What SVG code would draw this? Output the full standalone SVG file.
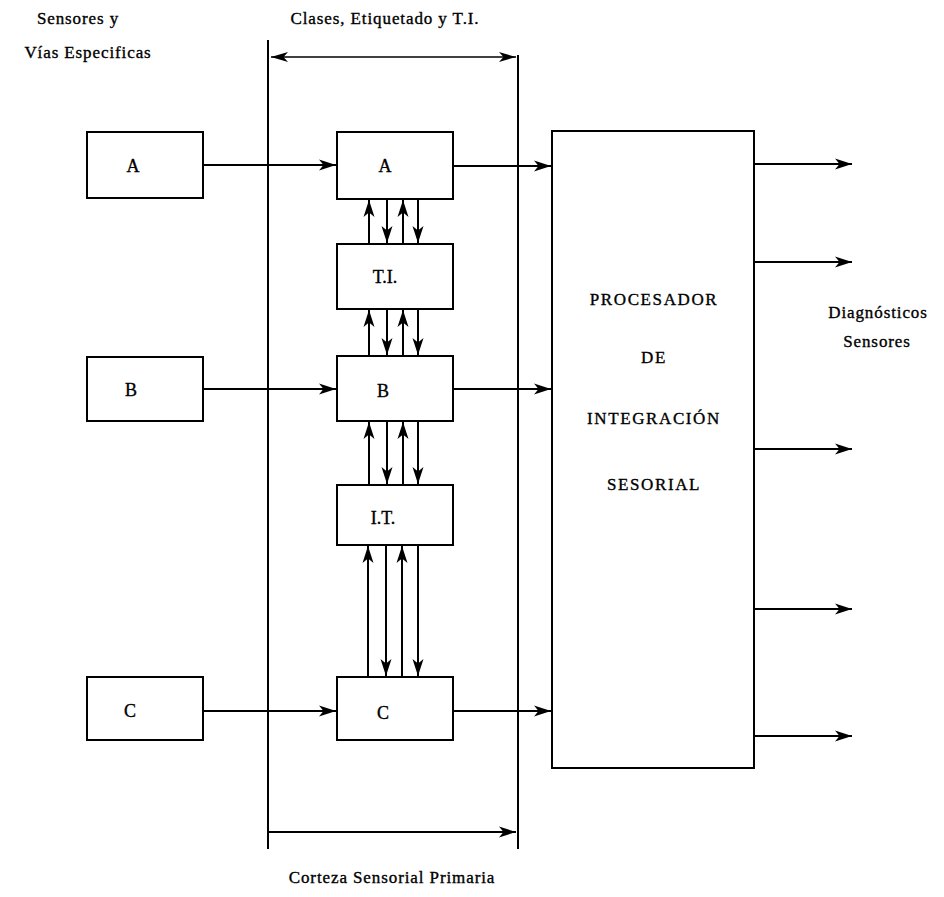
<svg xmlns="http://www.w3.org/2000/svg" width="944" height="897" viewBox="0 0 944 897">
<style>
.box{fill:#fff;stroke:#000;stroke-width:2}
.ln{fill:none;stroke:#000;stroke-width:2}
.ar{fill:none;stroke:#000;stroke-width:2;marker-end:url(#ah)}
.t{font-family:"Liberation Serif","DejaVu Serif",serif;fill:#000;stroke:#000;stroke-width:0.35;text-anchor:middle}
.bl{font-size:18px}
.lb{font-size:17px;letter-spacing:0.9px}
.pr{font-size:17px;letter-spacing:1.6px}
</style>
<defs>
<marker id="ah" markerUnits="userSpaceOnUse" markerWidth="18" markerHeight="12" refX="17" refY="6" orient="auto">
<path d="M0,0.5 L17,6 L0,11.5 L4.5,6 z" fill="#000"/>
</marker>
<marker id="as" markerUnits="userSpaceOnUse" markerWidth="18" markerHeight="12" refX="17" refY="6" orient="auto-start-reverse">
<path d="M0,1 L17,6 L0,11 L4.5,6 z" fill="#000"/>
</marker>
</defs>
<rect width="944" height="897" fill="#fff"/>
<g id="labels">
<text class="t lb" x="78" y="24">Sensores y</text>
<text class="t lb" x="88" y="58">Vías Especificas</text>
<text class="t lb" x="385" y="24">Clases, Etiquetado y T.I.</text>
<text class="t lb" x="878" y="318">Diagnósticos</text>
<text class="t lb" x="877" y="347">Sensores</text>
<text class="t lb" x="392" y="883">Corteza Sensorial Primaria</text>
</g>
<g id="connectors">
<line class="ln" x1="268" y1="40" x2="268" y2="849"/>
<line class="ln" x1="518" y1="55" x2="518" y2="849"/>
<line x1="271" y1="57" x2="516" y2="57" stroke="#000" stroke-width="1.6" marker-start="url(#as)" marker-end="url(#as)"/>
<line class="ar" x1="268" y1="832" x2="516" y2="832"/>
<line class="ar" x1="204" y1="165" x2="336" y2="165"/>
<line class="ar" x1="453" y1="166" x2="551" y2="166"/>
<line class="ar" x1="204" y1="389" x2="336" y2="389"/>
<line class="ar" x1="453" y1="389" x2="551" y2="389"/>
<line class="ar" x1="204" y1="711" x2="336" y2="711"/>
<line class="ar" x1="453" y1="711" x2="551" y2="711"/>
<line class="ar" x1="754" y1="164" x2="852" y2="164"/>
<line class="ar" x1="754" y1="262" x2="852" y2="262"/>
<line class="ar" x1="754" y1="449" x2="852" y2="449"/>
<line class="ar" x1="754" y1="609" x2="852" y2="609"/>
<line class="ar" x1="754" y1="736" x2="852" y2="736"/>
<line class="ar" x1="369" y1="244" x2="369" y2="200"/>
<line class="ar" x1="403" y1="244" x2="403" y2="200"/>
<line class="ar" x1="387" y1="199" x2="387" y2="243"/>
<line class="ar" x1="418" y1="199" x2="418" y2="243"/>
<line class="ar" x1="369" y1="356" x2="369" y2="310"/>
<line class="ar" x1="403" y1="356" x2="403" y2="310"/>
<line class="ar" x1="387" y1="309" x2="387" y2="355"/>
<line class="ar" x1="418" y1="309" x2="418" y2="355"/>
<line class="ar" x1="369" y1="485" x2="369" y2="422"/>
<line class="ar" x1="403" y1="485" x2="403" y2="422"/>
<line class="ar" x1="387" y1="421" x2="387" y2="484"/>
<line class="ar" x1="418" y1="421" x2="418" y2="484"/>
<line class="ar" x1="368" y1="677" x2="368" y2="546"/>
<line class="ar" x1="402" y1="677" x2="402" y2="546"/>
<line class="ar" x1="386" y1="545" x2="386" y2="676"/>
<line class="ar" x1="418" y1="545" x2="418" y2="676"/>
</g>
<g id="sA"><rect class="box" x="87" y="132" width="116" height="66"/><text class="t bl" x="133" y="172">A</text></g>
<g id="sB"><rect class="box" x="87" y="357" width="116" height="64"/><text class="t bl" x="131" y="396">B</text></g>
<g id="sC"><rect class="box" x="87" y="677" width="116" height="63"/><text class="t bl" x="130" y="717">C</text></g>
<g id="cA"><rect class="box" x="337" y="132" width="116" height="67"/><text class="t bl" x="385" y="172">A</text></g>
<g id="cTI"><rect class="box" x="337" y="244" width="116" height="65"/><text class="t bl" x="385" y="283">T.I.</text></g>
<g id="cB"><rect class="box" x="337" y="356" width="116" height="65"/><text class="t bl" x="383" y="397">B</text></g>
<g id="cIT"><rect class="box" x="337" y="485" width="116" height="60"/><text class="t bl" x="383" y="524">I.T.</text></g>
<g id="cC"><rect class="box" x="337" y="677" width="116" height="63"/><text class="t bl" x="383" y="719">C</text></g>
<g id="proc"><rect class="box" x="552" y="131" width="202" height="637"/>
<text class="t pr" x="654" y="305">PROCESADOR</text>
<text class="t pr" x="654" y="363">DE</text>
<text class="t pr" x="654" y="424">INTEGRACIÓN</text>
<text class="t pr" x="654" y="490">SESORIAL</text>
</g>
</svg>
